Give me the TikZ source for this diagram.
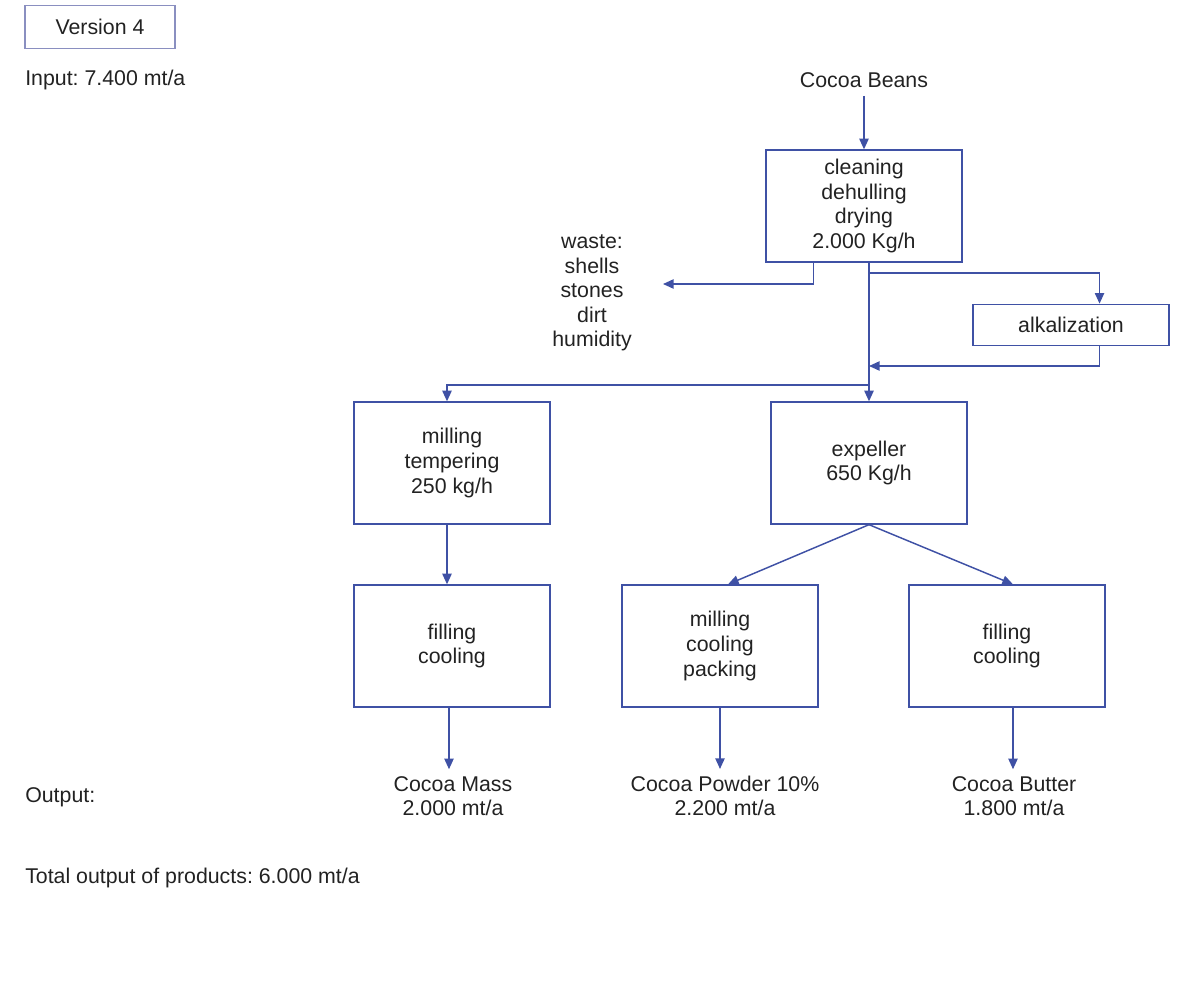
\documentclass[tikz,border=0pt]{standalone}
\usepackage{fontspec}
\setmainfont{Liberation Sans}
\usetikzlibrary{arrows.meta}
\definecolor{flowblue}{HTML}{3F51A5}
\definecolor{tagblue}{HTML}{8A8FC0}
\definecolor{inkgray}{HTML}{222222}
\frenchspacing
\tikzset{
	box/.style={draw=flowblue, line width=1pt, minimum width=147pt, minimum height=91.5pt, align=center, inner sep=0pt},
	flow/.style={draw=flowblue, line width=1.1pt, -{Triangle[length=8pt,width=7pt]}},
	txt/.style={align=center, inner sep=0pt},
	lefttxt/.style={anchor=west, inner sep=0pt}
}

\begin{document}
\begin{tikzpicture}[x=0.75pt, y=-0.75pt, font=\fontsize{16}{18.4}\selectfont, text=inkgray]
		%%%%% START %%%%%
		\useasboundingbox (0,0) rectangle (1200,996);
		
		\node[draw=tagblue, line width=1pt, minimum width=112.5pt, minimum height=32pt] (version) at (100,27) {Version 4};
		\node[lefttxt] (input) at (25,80) {Input: 7.400 mt/a};
		\node[txt] (beans) at (864,80) {Cocoa Beans};
		
		\node[box, minimum height=84pt] (clean) at (864,206) {cleaning\\dehulling\\drying\\2.000 Kg/h};
		\node[txt] (waste) at (592,293) {waste:\\shells\\stones\\dirt\\humidity};
		\node[box, minimum height=31pt] (alk) at (1071,325) {alkalization};
		
		\node[box] (mill) at (452,463) {milling\\tempering\\250 kg/h};
		\node[box] (expel) at (869,463) {expeller\\650 Kg/h};
		
		\node[box] (fillA) at (452,646) {filling\\cooling};
		\node[box] (packB) at (720,646) {milling\\cooling\\packing};
		\node[box] (fillC) at (1007,646) {filling\\cooling};
		
		\node[txt] (mass) at (453,796) {Cocoa Mass\\2.000 mt/a};
		\node[txt] (powder) at (725,796) {Cocoa Powder 10\%\\2.200 mt/a};
		\node[txt] (butter) at (1014,796) {Cocoa Butter\\1.800 mt/a};
		\node[lefttxt] (output) at (25,797) {Output:};
		\node[lefttxt] (total) at (25,878) {Total output of products: 6.000 mt/a};
		
		% branch points
		\coordinate (wasteend) at (663,284);
		\coordinate (alksplit) at (869,273);
		\coordinate (alkjoin) at (869,366);
		\coordinate (millsplit) at (869,385);
		
		\draw[flow, shorten <=6pt] (beans) -- (clean);
		\draw[flow] ([xshift=-38pt]clean.south) |- (wasteend);
		\draw[flow] (clean.south -| expel.north) -- (expel.north);
		\draw[flow] (alksplit) -| ([xshift=21.4pt]alk.north);
		\draw[flow] ([xshift=21.4pt]alk.south) |- (alkjoin);
		\draw[flow] (millsplit) -| ([xshift=-3.75pt]mill.north);
		
		\draw[flow] ([xshift=-3.75pt]mill.south) -- ([xshift=-3.75pt]fillA.north);
		\draw[flow] (expel.south) -- ([xshift=6pt]packB.north);
		\draw[flow] (expel.south) -- ([xshift=4.5pt]fillC.north);
		
		\draw[flow, shorten >=5pt] ([xshift=-2.25pt]fillA.south) -- ([xshift=-2.25pt]fillA.south |- mass.north);
		\draw[flow, shorten >=5pt] (packB.south) -- (packB.south |- powder.north);
		\draw[flow, shorten >=5pt] ([xshift=4.5pt]fillC.south) -- ([xshift=4.5pt]fillC.south |- butter.north);
		
		%%%%% END %%%%%
\end{tikzpicture}
\end{document}
